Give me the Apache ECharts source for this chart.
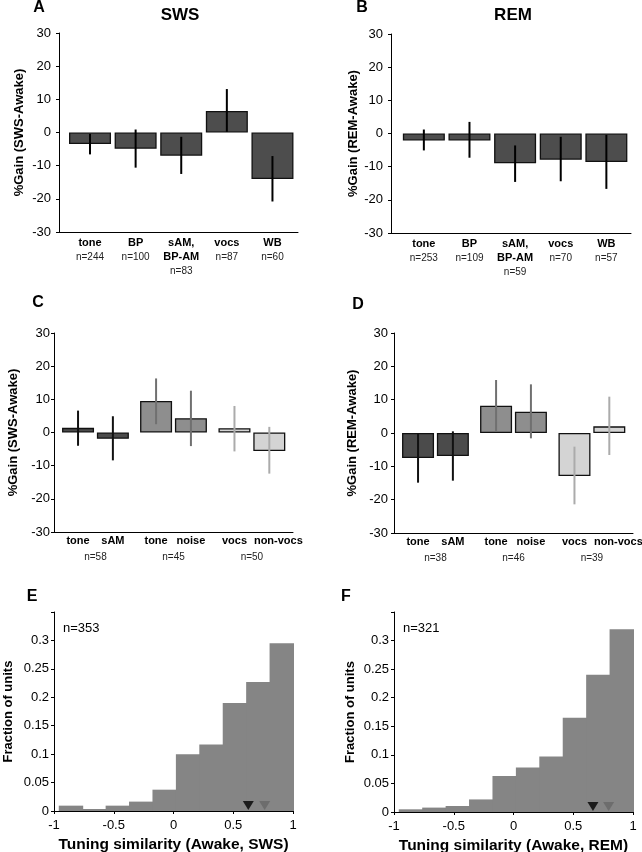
<!DOCTYPE html>
<html>
<head>
<meta charset="utf-8">
<script src="https://cdn.jsdelivr.net/npm/echarts@6/dist/echarts.min.js"></script>
<style>html,body{margin:0;padding:0;background:#fff}#c{width:642px;height:852px}</style>
</head>
<body>
<div id="c"></div>
<script>
// ---------- Data ----------
// Panel A (SWS) & B (REM): stimulus classes
const catsAB = ['tone', 'BP', 'sAM,\nBP-AM', 'vocs', 'WB'];
const nA = [244, 100, 83, 87, 60];
const meanA = [-3.5, -4.9, -7.0, 6.5, -14.0];
const loA = [-6.6, -10.6, -12.5, 0.2, -20.8];
const hiA = [-0.4, 0.9, -1.3, 13.1, -7.1];

const nB = [253, 109, 59, 70, 57];
const meanB = [-2.1, -2.1, -9.0, -7.9, -8.6];
const loB = [-5.1, -7.3, -14.6, -14.4, -16.7];
const hiB = [1.2, 3.5, -3.6, -1.0, -0.4];

// Panel C (SWS) & D (REM): paired comparisons
const catsCD = ['tone', 'sAM', 'tone', 'noise', 'vocs', 'non-vocs'];
const groupOfCD = [0, 0, 1, 1, 2, 2];
const nC = [58, 45, 50];
const meanC = [1.4, -1.9, 9.5, 4.3, 1.3, -5.6];
const loC = [-4.0, -8.4, 2.5, -4.1, -5.7, -12.4];
const hiC = [6.6, 4.9, 16.3, 12.6, 8.0, 1.7];

const nD = [38, 46, 39];
const meanD = [-7.5, -6.9, 8.2, 6.4, -12.9, 2.0];
const loD = [-14.9, -14.3, 0.5, -1.6, -21.4, -6.6];
const hiD = [0.0, 0.5, 15.9, 14.6, -4.1, 10.9];

// Panel E (SWS) & F (REM): tuning similarity histograms
const binEdges = [-0.96, -0.764, -0.568, -0.372, -0.176, 0.02, 0.216, 0.412, 0.608, 0.804, 1.0];
const fracE = [0.0094, 0.0035, 0.0094, 0.0165, 0.0375, 0.100, 0.117, 0.190, 0.227, 0.295];
const fracF = [0.0047, 0.0077, 0.0105, 0.022, 0.063, 0.078, 0.097, 0.165, 0.240, 0.320];
const markE = [0.626, 0.763];
const markF = [0.665, 0.796];
const nE = 353, nF = 321;

// tick labels
const yTicksGain = [-30, -20, -10, 0, 10, 20, 30];
const xTicksSim = [-1, -0.5, 0, 0.5, 1];

// ---------- Layout helpers ----------
const FONT = 'Liberation Sans, Arial, Helvetica, sans-serif';
const posAB = [0, 1, 2, 3, 4];
const posCD = [0, 1, 2.24, 3.24, 4.49, 5.49];
const labelPosCD = [0, 1, 2.24, 3.24, 4.49, 5.75];
const groupCenters = [0.5, 2.74, 4.99];

const grids = [
  {left: 59, top: 33, width: 239, height: 199},
  {left: 391, top: 34, width: 240, height: 199},
  {left: 54, top: 333, width: 239, height: 199},
  {left: 394, top: 333, width: 239, height: 200},
  {left: 54, top: 612, width: 239, height: 199},
  {left: 394, top: 612, width: 239, height: 200}
].map(g => Object.assign({outerBoundsMode: 'none', containLabel: false}, g));

const axisLineStyle = {show: true, onZero: false, lineStyle: {color: '#000', width: 1}};

function gainY(gi, name, gap, margin) {
  return {
    gridIndex: gi, type: 'value', min: -30, max: 30, interval: 10,
    axisLine: axisLineStyle,
    axisTick: {show: true, length: 3, lineStyle: {color: '#000'}},
    splitLine: {show: false},
    axisLabel: {color: '#000', fontSize: 13, fontFamily: FONT, margin: margin,
      customValues: yTicksGain},
    name: name, nameLocation: 'middle', nameGap: gap, nameRotate: 90,
    nameTextStyle: {color: '#000', fontSize: 13, fontWeight: 'bold', fontFamily: FONT}
  };
}
const richCat = {
  b: {fontSize: 11, fontWeight: 'bold', fontFamily: FONT, color: '#000', lineHeight: 14},
  n: {fontSize: 10, fontFamily: FONT, color: '#222', lineHeight: 14}
};
function catXAB(gi, min, max, ns) {
  return {
    gridIndex: gi, type: 'value', min: min, max: max,
    axisLine: axisLineStyle, axisTick: {show: false}, splitLine: {show: false},
    axisLabel: {
      customValues: posAB, margin: 4, rich: richCat, lineHeight: 14, hideOverlap: false,
      showMinLabel: true, showMaxLabel: true,
      formatter: v => {
        const i = posAB.indexOf(v);
        if (i < 0) return '';
        const lines = catsAB[i].split('\n').map(s => '{b|' + s + '}');
        lines.push('{n|n=' + ns[i] + '}');
        return lines.join('\n');
      }
    }
  };
}
function catXCD(gi) {
  return {
    gridIndex: gi, type: 'value', min: -0.69, max: 6.17,
    axisLine: axisLineStyle, axisTick: {show: false}, splitLine: {show: false},
    axisLabel: {
      customValues: labelPosCD, margin: 2, rich: richCat, hideOverlap: false,
      showMinLabel: true, showMaxLabel: true,
      formatter: v => {
        const i = labelPosCD.indexOf(v);
        return i < 0 ? '' : '{b|' + catsCD[i] + '}';
      }
    }
  };
}
function groupXCD(gi, ns) {
  return {
    gridIndex: gi, type: 'value', min: -0.69, max: 6.17, position: 'bottom',
    axisLine: {show: false}, axisTick: {show: false}, splitLine: {show: false},
    axisLabel: {
      customValues: groupCenters, margin: 18, rich: richCat, hideOverlap: false,
      showMinLabel: true, showMaxLabel: true,
      formatter: v => { const i = groupCenters.indexOf(v); return i < 0 ? '' : '{n|n=' + ns[i] + '}'; }
    }
  };
}
function simX(gi, name) {
  return {
    gridIndex: gi, type: 'value', min: -1, max: 1, interval: 0.5,
    axisLine: axisLineStyle,
    axisTick: {show: true, length: 3, lineStyle: {color: '#000'}},
    splitLine: {show: false},
    axisLabel: {color: '#000', fontSize: 13, fontFamily: FONT, margin: 8, customValues: xTicksSim,
      showMinLabel: true, showMaxLabel: true},
    name: name, nameLocation: 'middle', nameGap: 26,
    nameTextStyle: {color: '#000', fontSize: 15.5, fontWeight: 'bold', fontFamily: FONT}
  };
}
function fracY(gi, gap) {
  return {
    gridIndex: gi, type: 'value', min: 0, max: 0.35, interval: 0.05,
    axisLine: axisLineStyle,
    axisTick: {show: true, length: 3, lineStyle: {color: '#000'}},
    splitLine: {show: false},
    axisLabel: {color: '#000', fontSize: 13, fontFamily: FONT, margin: 5,
      formatter: v => (v > 0.31 ? '' : String(+v.toFixed(2)))},
    name: 'Fraction of units', nameLocation: 'middle', nameGap: gap, nameRotate: 90,
    nameTextStyle: {color: '#000', fontSize: 13, fontWeight: 'bold', fontFamily: FONT}
  };
}

const barFillCD = ['#4b4b4b', '#8e8e8e', '#d4d4d4'];
const errColCD = ['#111111', '#707070', '#ababab'];

function barSeries(xi, yi, pos, means, width, fills) {
  return {
    type: 'bar', xAxisIndex: xi, yAxisIndex: yi, barWidth: width, silent: true,
    data: pos.map((x, i) => ({
      value: [x, means[i]],
      itemStyle: {color: fills(i), borderColor: '#111', borderWidth: 1.3}
    }))
  };
}
function errSeries(xi, yi, pos, lo, hi, colFn) {
  return {
    type: 'custom', xAxisIndex: xi, yAxisIndex: yi, silent: true, z: 5,
    data: pos.map((x, i) => [x, lo[i], hi[i]]),
    encode: {x: 0, y: [1, 2]},
    renderItem: (params, api) => {
      const p1 = api.coord([api.value(0), api.value(1)]);
      const p2 = api.coord([api.value(0), api.value(2)]);
      return {type: 'line', shape: {x1: p1[0], y1: p1[1], x2: p2[0], y2: p2[1]},
        style: {stroke: colFn(params.dataIndex), lineWidth: 2}};
    }
  };
}
function histSeries(xi, yi, fracs) {
  return {
    type: 'custom', xAxisIndex: xi, yAxisIndex: yi, silent: true,
    data: fracs.map((f, i) => [binEdges[i], binEdges[i + 1], f]),
    encode: {x: [0, 1], y: 2},
    renderItem: (params, api) => {
      const a = api.coord([api.value(0), api.value(2)]);
      const b = api.coord([api.value(1), 0]);
      return {type: 'rect', shape: {x: a[0], y: a[1], width: b[0] - a[0] + 1, height: b[1] - a[1]},
        style: {fill: '#858585'}};
    }
  };
}
function markSeries(xi, yi, marks) {
  const cols = ['#000000', '#666666'];
  return {
    type: 'scatter', xAxisIndex: xi, yAxisIndex: yi, silent: true, z: 6,
    symbol: 'path://M0,0 L10,0 L5,8 Z', symbolSize: [11, 9], symbolOffset: [0, -5.5],
    data: marks.map((m, i) => ({value: [m, 0], itemStyle: {color: cols[i]}}))
  };
}

const textEl = (t, x, y, font, align) => ({
  type: 'text', x: x, y: y, silent: true,
  style: {text: t, font: font, fill: '#000', textAlign: align || 'center', textVerticalAlign: 'middle'}
});

const option = {
  animation: false,
  backgroundColor: '#fff',
  grid: grids,
  xAxis: [
    catXAB(0, -0.68, 4.56, nA),
    catXAB(1, -0.72, 4.54, nB),
    catXCD(2), catXCD(3),
    simX(4, 'Tuning similarity (Awake, SWS)'),
    simX(5, 'Tuning similarity (Awake, REM)'),
    groupXCD(2, nC), groupXCD(3, nD)
  ],
  yAxis: [
    gainY(0, '%Gain (SWS-Awake)', 33, 8),
    gainY(1, '%Gain (REM-Awake)', 31, 8),
    gainY(2, '%Gain (SWS-Awake)', 34, 4),
    gainY(3, '%Gain (REM-Awake)', 35, 6),
    fracY(4, 39), fracY(5, 37)
  ],
  series: [
    barSeries(0, 0, posAB, meanA, 42, () => '#4d4d4d'),
    errSeries(0, 0, posAB, loA, hiA, () => '#000'),
    barSeries(1, 1, posAB, meanB, 42, () => '#4d4d4d'),
    errSeries(1, 1, posAB, loB, hiB, () => '#000'),
    barSeries(2, 2, posCD, meanC, 32, i => barFillCD[groupOfCD[i]]),
    errSeries(2, 2, posCD, loC, hiC, i => errColCD[groupOfCD[i]]),
    barSeries(3, 3, posCD, meanD, 32, i => barFillCD[groupOfCD[i]]),
    errSeries(3, 3, posCD, loD, hiD, i => errColCD[groupOfCD[i]]),
    histSeries(4, 4, fracE), markSeries(4, 4, markE),
    histSeries(5, 5, fracF), markSeries(5, 5, markF)
  ],
  graphic: [
    textEl('A', 39, 8, 'bold 16px ' + FONT),
    textEl('SWS', 180, 15, 'bold 17px ' + FONT),
    textEl('B', 362, 8, 'bold 16px ' + FONT),
    textEl('REM', 513, 15, 'bold 17px ' + FONT),
    textEl('C', 38, 303, 'bold 16px ' + FONT),
    textEl('D', 358, 305, 'bold 16px ' + FONT),
    textEl('E', 32, 597, 'bold 16px ' + FONT),
    textEl('F', 346, 597, 'bold 16px ' + FONT),
    textEl('n=' + nE, 63, 628, '13px ' + FONT, 'left'),
    textEl('n=' + nF, 403, 628, '13px ' + FONT, 'left')
  ]
};

const chart = echarts.init(document.getElementById('c'), null, {renderer: 'canvas'});
chart.setOption(option);
</script>
</body>
</html>
